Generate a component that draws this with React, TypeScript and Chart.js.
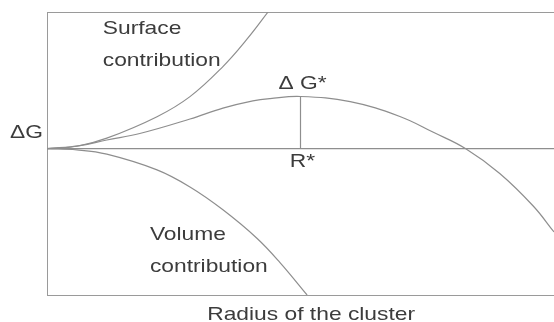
import React, { useEffect, useRef } from "react";
import { Chart, registerables } from "chart.js";

Chart.register(...registerables);

// Cluster radius (arbitrary units) and free-energy contributions (arbitrary units)
const surfaceR = [0, 5.9, 11.8, 21.7, 28.2, 34.7, 39.4, 43.6];
const surfaceG = [0, 1.8, 7.7, 23.4, 38.1, 60.1, 79.9, 100];

const volumeR = [0, 5.9, 11.8, 21.7, 28.2, 34.7, 41.4, 46.0, 51.3];
const volumeG = [0, -0.9, -4.0, -15.5, -28.0, -44.7, -65.5, -83.5, -107];

const totalR = [0, 6.5, 11.8, 18.3, 28.2, 34.7, 40.6, 44.0, 50.0, 59.8, 69.6, 76.1, 82.6, 89.3, 95.9, 100];
const totalG = [0, 2.3, 6.4, 11.1, 21.7, 29.7, 35.0, 36.7, 38.2, 34.4, 23.6, 12.2, 0, -18.1, -41.9, -60.9];

// Critical radius and barrier height
const criticalR = 50.0;
const criticalG = 38.2;

const xRange = [0, 100];
const yRange = [-107, 100];

// Text placed at data coordinates
const freeLabels = [
  { text: "Surface", x: 11.0, y: 83.9, align: "left" },
  { text: "contribution", x: 11.0, y: 60.5, align: "left" },
  { text: "Volume", x: 20.3, y: -66.8, align: "left" },
  { text: "contribution", x: 20.3, y: -90.2, align: "left" },
  { text: "Radius of the cluster", x: 31.6, y: -125.3, align: "left" },
];

const LINE = "#8e8e8e";
const FRAME = "#9a9a9a";
const TEXT = "#3c3c3c";
const FONT = '19px "Liberation Sans", Arial, sans-serif';
const STRETCH = 1.2;

const toPoints = (xs: number[], ys: number[]) => xs.map((x, i) => ({ x, y: ys[i] }));

function drawText(ctx: CanvasRenderingContext2D, text: string, x: number, y: number, align: CanvasTextAlign) {
  ctx.save();
  ctx.translate(x, y);
  ctx.scale(STRETCH, 1);
  ctx.textAlign = align;
  ctx.textBaseline = "alphabetic";
  ctx.fillText(text, 0, 0);
  ctx.restore();
}

const labelPlugin = {
  id: "nucleationLabels",
  afterDraw(chart: any) {
    const { ctx, chartArea } = chart;
    const xs = chart.scales.x;
    const ys = chart.scales.y;
    ctx.save();
    ctx.fillStyle = TEXT;
    ctx.font = FONT;
    for (const l of freeLabels) {
      drawText(ctx, l.text, xs.getPixelForValue(l.x), ys.getPixelForValue(l.y), l.align as CanvasTextAlign);
    }
    const zeroY = ys.getPixelForValue(0);
    drawText(ctx, "ΔG", chartArea.left - 4, zeroY - 11, "right");
    const rx = xs.getPixelForValue(criticalR) + 2;
    drawText(ctx, "Δ G*", rx, ys.getPixelForValue(criticalG) - 7, "center");
    drawText(ctx, "R*", rx, zeroY + 18, "center");
    ctx.restore();
  },
};

const hiddenAxis = (position: string, min: number, max: number) => ({
  type: "linear",
  position,
  min,
  max,
  grid: { display: false, drawTicks: false },
  ticks: { display: false },
  border: { display: true, color: FRAME, width: 1 },
});

export default function App() {
  const canvasRef = useRef<HTMLCanvasElement>(null);

  useEffect(() => {
    document.body.style.margin = "0";
    const canvas = canvasRef.current;
    if (!canvas) return;

    const line = (data: { x: number; y: number }[], tension: number) => ({
      data,
      showLine: true,
      borderColor: LINE,
      borderWidth: 1.2,
      pointRadius: 0,
      tension,
      fill: false,
    });

    const chart = new Chart(canvas, {
      type: "scatter",
      data: {
        datasets: [
          line(toPoints(xRange, [0, 0]), 0),
          line(toPoints([criticalR, criticalR], [0, criticalG]), 0),
          line(toPoints(surfaceR, surfaceG), 0.4),
          line(toPoints(volumeR, volumeG), 0.4),
          line(toPoints(totalR, totalG), 0.4),
        ],
      } as any,
      options: {
        responsive: false,
        animation: false,
        events: [],
        layout: { padding: { left: 47, top: 12, right: 0, bottom: 27 } },
        plugins: { legend: { display: false }, tooltip: { enabled: false } },
        scales: {
          x: hiddenAxis("bottom", xRange[0], xRange[1]),
          x2: hiddenAxis("top", xRange[0], xRange[1]),
          y: hiddenAxis("left", yRange[0], yRange[1]),
        } as any,
      },
      plugins: [labelPlugin],
    });

    return () => chart.destroy();
  }, []);

  return (
    <div style={{ position: "fixed", left: 0, top: 0, width: 554, height: 322, background: "#fff" }}>
      <canvas ref={canvasRef} width={554} height={322} />
    </div>
  );
}
